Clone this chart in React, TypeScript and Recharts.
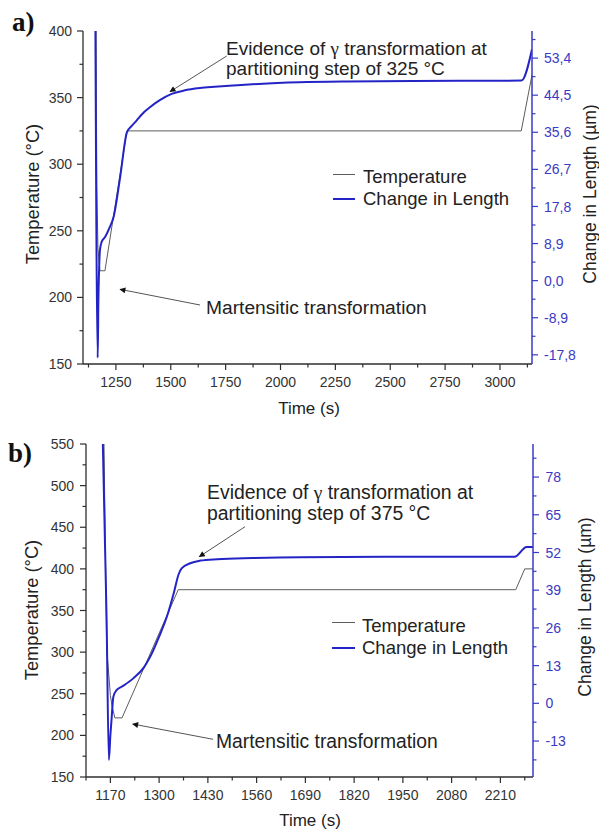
import React from 'react';
import { LineChart, Line, XAxis, YAxis } from 'recharts';

// ---------- Panel a) data ----------
const timeTempA = [1157, 1163, 1168, 1177, 1200, 1300, 3097, 3146];
const tempA = [500, 285, 237, 220, 220, 325, 325, 367];

const timeLenA = [1155, 1167, 1170, 1173, 1177, 1185, 1200, 1220, 1240, 1270, 1300, 1320, 1344, 1370, 1405, 1450, 1504, 1560, 1633, 1700, 1783, 1900, 2086, 2300, 2600, 3098, 3146];
const lenA = [80, -18.5, -5, 2, 7.2, 9.3, 10.4, 12.6, 15.4, 25.1, 35.6, 37.0, 38.4, 40.0, 41.6, 43.3, 44.8, 45.6, 46.2, 46.5, 46.8, 47.2, 47.6, 47.8, 47.9, 48.0, 55.5];

const xMajorA = [1250, 1500, 1750, 2000, 2250, 2500, 2750, 3000];
const xMinorA = [1125, 1375, 1625, 1875, 2125, 2375, 2625, 2875, 3125];
const leftMajorA = [150, 200, 250, 300, 350, 400];
const leftMinorA = [175, 225, 275, 325, 375];
const rightMajorA = [-17.8, -8.9, 0, 8.9, 17.8, 26.7, 35.6, 44.5, 53.4];
const rightMinorA = [-13.35, -4.45, 4.45, 13.35, 22.25, 31.15, 40.05, 48.95, 57.85];

// ---------- Panel b) data ----------
const timeTempB = [1150, 1153, 1160, 1170, 1175, 1182, 1201, 1351, 2251, 2275, 2297];
const tempB = [620, 550, 306, 248, 234, 221, 221, 375, 375, 400, 400];

const timeLenB = [1149, 1160, 1166, 1170, 1173, 1178, 1187, 1200, 1231, 1260, 1276, 1300, 1321, 1340, 1352, 1360, 1383, 1410, 1455, 1550, 1676, 1900, 2248, 2280, 2297];
const lenB = [95, 28.7, -19.5, -11, -5.8, 2.3, 4.6, 5.7, 8.6, 12.5, 16, 23, 30, 38.5, 44.5, 46.5, 48.3, 49.2, 49.7, 50.1, 50.4, 50.5, 50.5, 53.9, 53.9];

const xMajorB = [1170, 1300, 1430, 1560, 1690, 1820, 1950, 2080, 2210];
const xMinorB = [1105, 1235, 1365, 1495, 1625, 1755, 1885, 2015, 2145, 2275];
const leftMajorB = [150, 200, 250, 300, 350, 400, 450, 500, 550];
const leftMinorB = [175, 225, 275, 325, 375, 425, 475, 525];
const rightMajorB = [-13, 0, 13, 26, 39, 52, 65, 78];
const rightMinorB = [-19.5, -6.5, 6.5, 19.5, 32.5, 45.5, 58.5, 71.5, 84.5];

const seriesNames = ['Temperature', 'Change in Length'];

const zip = (ts: number[], vs: number[]) => ts.map((t, i) => ({ t, v: vs[i] }));

const DARK = '#2e2e2e';
const TEXT = '#333333';
const BLUE_LINE = '#2424c6';
const BLUE_AXIS = '#3a3ac4';
const GRAY_LINE = '#5c5c5c';
const FONT = '"Liberation Sans", Arial, sans-serif';

const isMajor = (v: number, majors: number[]) => majors.some((m) => Math.abs(m - v) < 1e-6);

const leftTick = (majors: number[], gap: number) => (p: any) => {
  const { x, y, payload } = p;
  const maj = isMajor(payload.value, majors);
  const len = maj ? 6 : 3.5;
  return (
    <g>
      <line x1={x - len} y1={y} x2={x} y2={y} stroke={DARK} strokeWidth={1.2} />
      {maj && (
        <text x={x - gap} y={y} dy="0.36em" textAnchor="end" fontSize={14} fill={TEXT} fontFamily={FONT}>
          {payload.value}
        </text>
      )}
    </g>
  );
};

const rightTick = (majors: number[], fmt: (v: number) => string, gap: number) => (p: any) => {
  const { x, y, payload } = p;
  const maj = isMajor(payload.value, majors);
  const len = maj ? 6 : 3.5;
  return (
    <g>
      <line x1={x} y1={y} x2={x + len} y2={y} stroke={BLUE_AXIS} strokeWidth={1.2} />
      {maj && (
        <text x={x + gap} y={y} dy="0.36em" textAnchor="start" fontSize={14} fill={BLUE_AXIS} fontFamily={FONT}>
          {fmt(payload.value)}
        </text>
      )}
    </g>
  );
};

const bottomTick = (majors: number[]) => (p: any) => {
  const { x, y, payload } = p;
  const maj = isMajor(payload.value, majors);
  const len = maj ? 6 : 3.5;
  return (
    <g>
      <line x1={x} y1={y} x2={x} y2={y + len} stroke={DARK} strokeWidth={1.2} />
      {maj && (
        <text x={x} y={y + 23} textAnchor="middle" fontSize={14} fill={TEXT} fontFamily={FONT}>
          {payload.value}
        </text>
      )}
    </g>
  );
};

const topTick = (majors: number[]) => (p: any) => {
  const { x, y, payload } = p;
  const maj = isMajor(payload.value, majors);
  const len = maj ? 5 : 3;
  return <line x1={x} y1={y} x2={x} y2={y + len} stroke={DARK} strokeWidth={1.2} />;
};

type PanelProps = {
  top: number;
  height: number;
  marginTop: number;
  leftW: number;
  rightW: number;
  bottomH: number;
  tempData: { t: number; v: number }[];
  lenData: { t: number; v: number }[];
  xDomain: [number, number];
  xMajor: number[];
  xMinor: number[];
  leftDomain: [number, number];
  leftMajor: number[];
  leftMinor: number[];
  rightDomain: [number, number];
  rightMajor: number[];
  rightMinor: number[];
  rightFmt: (v: number) => string;
  leftGap: number;
  rightGap: number;
};

function Panel(props: PanelProps) {
  const xTicks = [...props.xMajor, ...props.xMinor].sort((a, b) => a - b);
  const lTicks = [...props.leftMajor, ...props.leftMinor].sort((a, b) => a - b);
  const rTicks = [...props.rightMajor, ...props.rightMinor].sort((a, b) => a - b);
  return (
    <div style={{ position: 'absolute', left: 0, top: props.top }}>
      <LineChart
        width={599}
        height={props.height}
        margin={{ top: props.marginTop, right: 0, bottom: 0, left: 0 }}
      >
        <XAxis
          xAxisId="bottom"
          dataKey="t"
          type="number"
          domain={props.xDomain}
          allowDataOverflow
          ticks={xTicks}
          interval={0}
          height={props.bottomH}
          tickSize={0}
          tickMargin={0}
          tickLine={false}
          axisLine={{ stroke: DARK, strokeWidth: 1.3 }}
          tick={bottomTick(props.xMajor)}
        />
        <XAxis
          xAxisId="top"
          orientation="top"
          dataKey="t"
          type="number"
          domain={props.xDomain}
          allowDataOverflow
          ticks={xTicks}
          interval={0}
          height={0}
          tickSize={0}
          tickMargin={0}
          tickLine={false}
          axisLine={{ stroke: DARK, strokeWidth: 1.3 }}
          tick={topTick(props.xMajor)}
        />
        <YAxis
          yAxisId="left"
          orientation="left"
          type="number"
          domain={props.leftDomain}
          allowDataOverflow
          ticks={lTicks}
          interval={0}
          width={props.leftW}
          tickSize={0}
          tickMargin={0}
          tickLine={false}
          axisLine={{ stroke: DARK, strokeWidth: 1.3 }}
          tick={leftTick(props.leftMajor, props.leftGap)}
        />
        <YAxis
          yAxisId="right"
          orientation="right"
          type="number"
          domain={props.rightDomain}
          allowDataOverflow
          ticks={rTicks}
          interval={0}
          width={props.rightW}
          tickSize={0}
          tickMargin={0}
          tickLine={false}
          axisLine={{ stroke: BLUE_AXIS, strokeWidth: 1.5 }}
          tick={rightTick(props.rightMajor, props.rightFmt, props.rightGap)}
        />
        <Line
          xAxisId="bottom"
          yAxisId="left"
          data={props.tempData}
          dataKey="v"
          name={seriesNames[0]}
          type="linear"
          stroke={GRAY_LINE}
          strokeWidth={1}
          dot={false}
          activeDot={false}
          isAnimationActive={false}
        />
        <Line
          xAxisId="bottom"
          yAxisId="right"
          data={props.lenData}
          dataKey="v"
          name={seriesNames[1]}
          type="monotone"
          stroke={BLUE_LINE}
          strokeWidth={2}
          dot={false}
          activeDot={false}
          isAnimationActive={false}
        />
      </LineChart>
    </div>
  );
}

const fmtA = (v: number) => v.toFixed(1).replace('.', ',');
const fmtB = (v: number) => String(v);

function Overlay() {
  const gamma = (
    <tspan fontFamily='"Liberation Serif", "Times New Roman", serif'>γ</tspan>
  );
  return (
    <svg
      width={599}
      height={831}
      style={{ position: 'absolute', left: 0, top: 0, pointerEvents: 'none' }}
      fontFamily={FONT}
    >
      <defs>
        <marker id="arr" viewBox="0 0 10 10" refX="9" refY="5" markerWidth="9" markerHeight="6" orient="auto" markerUnits="userSpaceOnUse">
          <path d="M0,0 L10,5 L0,10 z" fill="#111" />
        </marker>
      </defs>

      {/* panel letters */}
      <text x={12} y={31} fontSize={27} fontWeight="bold" fontFamily='"Liberation Serif", "Times New Roman", serif' fill="#111">a)</text>
      <text x={8} y={462} fontSize={27} fontWeight="bold" fontFamily='"Liberation Serif", "Times New Roman", serif' fill="#111">b)</text>

      {/* ---- panel a ---- */}
      <text x={39} y={194} fontSize={18.3} fill="#222" textAnchor="middle" transform="rotate(-90 39 194)">Temperature (°C)</text>
      <text x={596} y={194} fontSize={17.5} fill="#222" textAnchor="middle" transform="rotate(-90 596 194)">Change in Length (µm)</text>
      <text x={309} y={414} fontSize={17} fill="#222" textAnchor="middle">Time (s)</text>

      <text x={226} y={55} fontSize={19} fill="#222">Evidence of {gamma} transformation at</text>
      <text x={226} y={75} fontSize={19} fill="#222">partitioning step of 325 °C</text>
      <line x1={226.7} y1={56} x2={170} y2={91.7} stroke="#555" strokeWidth={1} markerEnd="url(#arr)" />

      <text x={206} y={314} fontSize={19.2} fill="#222">Martensitic transformation</text>
      <line x1={200} y1={305} x2={120} y2={289.3} stroke="#555" strokeWidth={1} markerEnd="url(#arr)" />

      <line x1={333} y1={174.5} x2={355} y2={174.5} stroke={GRAY_LINE} strokeWidth={1} />
      <text x={363} y={183} fontSize={18.5} fill="#222">{seriesNames[0]}</text>
      <line x1={333} y1={199} x2={355} y2={199} stroke={BLUE_LINE} strokeWidth={2} />
      <text x={363} y={205} fontSize={18.5} fill="#222">{seriesNames[1]}</text>

      {/* ---- panel b ---- */}
      <text x={38} y={610} fontSize={18.3} fill="#222" textAnchor="middle" transform="rotate(-90 38 610)">Temperature (°C)</text>
      <text x={591} y={607} fontSize={17.5} fill="#222" textAnchor="middle" transform="rotate(-90 591 607)">Change in Length (µm)</text>
      <text x={310} y={826} fontSize={17} fill="#222" textAnchor="middle">Time (s)</text>

      <text x={207} y={499} fontSize={19.4} fill="#222">Evidence of {gamma} transformation at</text>
      <text x={207} y={520} fontSize={19.4} fill="#222">partitioning step of 375 °C</text>
      <line x1={245} y1={526.7} x2={199.3} y2={556.7} stroke="#555" strokeWidth={1} markerEnd="url(#arr)" />

      <text x={216} y={748} fontSize={19.3} fill="#222">Martensitic transformation</text>
      <line x1={213} y1={739.3} x2={132.7} y2={724} stroke="#555" strokeWidth={1} markerEnd="url(#arr)" />

      <line x1={332} y1={622.5} x2={355} y2={622.5} stroke={GRAY_LINE} strokeWidth={1} />
      <text x={362} y={632} fontSize={18.5} fill="#222">{seriesNames[0]}</text>
      <line x1={332} y1={648} x2={355} y2={648} stroke={BLUE_LINE} strokeWidth={2} />
      <text x={362} y={654} fontSize={18.5} fill="#222">{seriesNames[1]}</text>
    </svg>
  );
}

export default function App() {
  return (
    <div style={{ position: 'absolute', left: 0, top: 0, width: 599, height: 831, background: '#fff', overflow: 'hidden' }}>
      <Panel
        top={0}
        height={415}
        marginTop={31}
        leftW={83}
        rightW={67}
        bottomH={51}
        tempData={zip(timeTempA, tempA)}
        lenData={zip(timeLenA, lenA)}
        xDomain={[1100, 3146]}
        xMajor={xMajorA}
        xMinor={xMinorA}
        leftDomain={[150, 400]}
        leftMajor={leftMajorA}
        leftMinor={leftMinorA}
        rightDomain={[-20, 59.9]}
        rightMajor={rightMajorA}
        rightMinor={rightMinorA}
        rightFmt={fmtA}
        leftGap={11}
        rightGap={12}
      />
      <Panel
        top={415}
        height={416}
        marginTop={29}
        leftW={86}
        rightW={66}
        bottomH={54}
        tempData={zip(timeTempB, tempB)}
        lenData={zip(timeLenB, lenB)}
        xDomain={[1105, 2297]}
        xMajor={xMajorB}
        xMinor={xMinorB}
        leftDomain={[150, 550]}
        leftMajor={leftMajorB}
        leftMinor={leftMinorB}
        rightDomain={[-25.4, 89.4]}
        rightMajor={rightMajorB}
        rightMinor={rightMinorB}
        rightFmt={fmtB}
        leftGap={12}
        rightGap={12.5}
      />
      <Overlay />
    </div>
  );
}
